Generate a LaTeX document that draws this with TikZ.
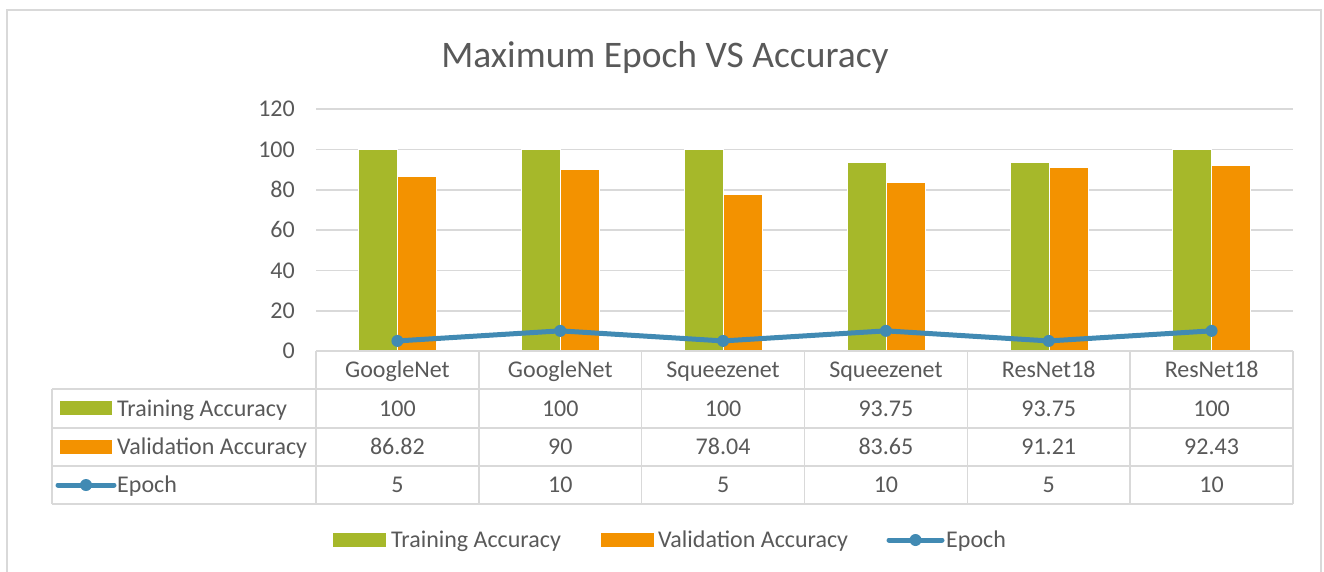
\documentclass[tikz,border=0pt]{standalone}
\usepackage{fontspec}
\setmainfont{Carlito}
\usetikzlibrary{calc}
\definecolor{trgreen}{HTML}{A6B82A}
\definecolor{vaorange}{HTML}{F39200}
\definecolor{epblue}{HTML}{418AB3}
\definecolor{gridgrey}{HTML}{D9D9D9}
\definecolor{txtgrey}{HTML}{595959}
\tikzset{
  gridline/.style={draw=gridgrey, line width=1.6pt},
  tableline/.style={draw=gridgrey, line width=1.6pt},
  celltext/.style={font=\fontsize{24}{28}\selectfont, text=txtgrey, inner sep=0pt},
  titletext/.style={font=\fontsize{37.5}{44}\selectfont, text=txtgrey, inner sep=0pt, anchor=base},
  trbar/.style={fill=trgreen, draw=white, line width=0.4pt},
  vabar/.style={fill=vaorange, draw=white, line width=0.4pt},
  epochline/.style={draw=epblue, line width=5pt, line cap=round, line join=round},
  epochdot/.style={fill=epblue}
}
\begin{document}
\begin{tikzpicture}[x=1pt,y=-1pt]
\useasboundingbox (0,0) rectangle (1324,571);
\draw[gridline] (7,10) rectangle (1321,590); % outer frame
\node[titletext] (title) at (665,67) {Maximum Epoch VS Accuracy};
% gridlines and y axis numbers
\foreach \v in {20,40,...,120}
  \draw[gridline] (316,{351-2.015*\v}) -- (1293,{351-2.015*\v});
\foreach \v in {0,20,...,120}
  \node[celltext, anchor=base east] (ylab\v) at (295,{351-2.015*\v+7.6}) {\v};
% bars, table values and epoch points
\foreach \i/\net/\tr/\va/\ep in {1/GoogleNet/100/86.82/5, 2/GoogleNet/100/90/10,
    3/Squeezenet/100/78.04/5, 4/Squeezenet/93.75/83.65/10,
    5/ResNet18/93.75/91.21/5, 6/ResNet18/100/92.43/10}{
  \pgfmathsetmacro\cx{316+162.83*(\i-0.5)}
  \path[trbar] ({\cx-39},351) rectangle (\cx,{351-2.015*\tr});
  \path[vabar] (\cx,351) rectangle ({\cx+39},{351-2.015*\va});
  \coordinate (ep\i) at (\cx,{351-2.015*\ep});
  \node[celltext, anchor=base] (hdr\i) at (\cx,377.6) {\net};
  \node[celltext, anchor=base] (tr\i) at (\cx,416.1) {\tr};
  \node[celltext, anchor=base] (va\i) at (\cx,454.6) {\va};
  \node[celltext, anchor=base] (epv\i) at (\cx,492.6) {\ep};
}
\draw[epochline] (ep1) -- (ep2) -- (ep3) -- (ep4) -- (ep5) -- (ep6);
\foreach \i in {1,...,6}
  \fill[epochdot] (ep\i) circle (6);
% data table
\foreach \i in {0,...,6}
  \draw[tableline] ({316+162.83*\i},351) -- ({316+162.83*\i},504);
\draw[tableline] (52,389) -- (52,504);
\draw[tableline] (316,351) -- (1293,351);
\foreach \y in {389,428,466,504}
  \draw[tableline] (52,\y) -- (1293,\y);
% row keys
\fill[trgreen] (60,401) rectangle (112,415);
\node[celltext, anchor=base west] (rowtr) at (117,416.1) {Training Accuracy};
\fill[vaorange] (60,440) rectangle (112,454);
\node[celltext, anchor=base west] (rowva) at (117,454.6) {Validation Accuracy};
\coordinate (rowepa) at (58,485);
\coordinate (rowepb) at (114,485);
\draw[epochline] (rowepa) -- (rowepb);
\fill[epochdot] ($(rowepa)!0.5!(rowepb)$) circle (6);
\node[celltext, anchor=base west] (rowep) at (117,492.6) {Epoch};
% legend
\fill[trgreen] (333,533) rectangle (386,547);
\node[celltext, anchor=base west] (legtr) at (391,547.6) {Training Accuracy};
\fill[vaorange] (601,533) rectangle (654,547);
\node[celltext, anchor=base west] (legva) at (658,547.6) {Validation Accuracy};
\coordinate (legepa) at (889,540);
\coordinate (legepb) at (942,540);
\draw[epochline] (legepa) -- (legepb);
\fill[epochdot] ($(legepa)!0.5!(legepb)$) circle (6);
\node[celltext, anchor=base west] (legep) at (946,547.6) {Epoch};
\end{tikzpicture}
\end{document}
